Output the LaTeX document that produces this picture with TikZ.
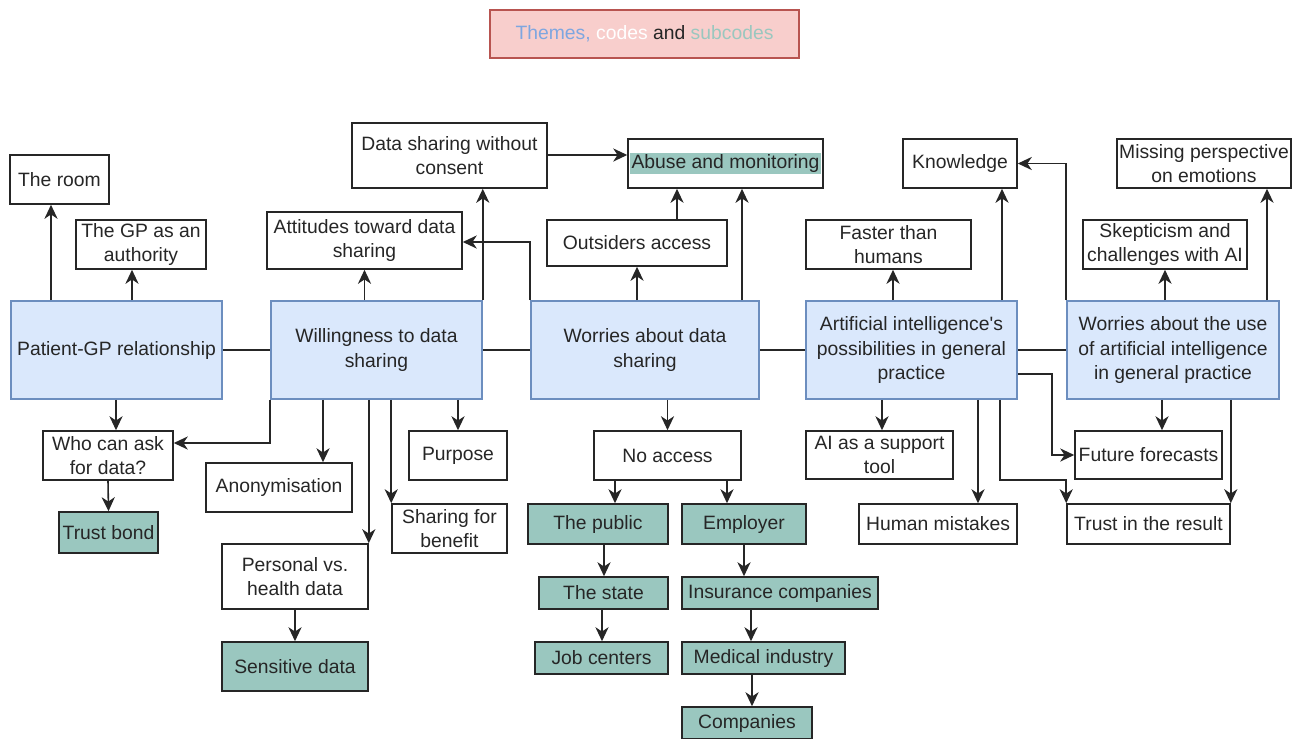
\documentclass[tikz,border=0pt]{standalone}
\usepackage{fontspec}
\setmainfont{Liberation Sans}
\usetikzlibrary{arrows.meta}
\definecolor{themefill}{HTML}{DAE8FC}
\definecolor{themeline}{HTML}{6C8EBF}
\definecolor{subfill}{HTML}{9AC7BF}
\definecolor{titlefill}{HTML}{F8CECC}
\definecolor{titleline}{HTML}{B85450}
\definecolor{themeblue}{HTML}{7EA6E0}

\begin{document}
\begin{tikzpicture}[
  x=0.02cm,y=-0.02cm,
  box/.style={rectangle,inner sep=0pt,align=center,line width=0.9pt,text=black!85,font=\fontsize{11}{13.7}\selectfont},
  theme/.style={box,draw=themeline,fill=themefill,minimum width=4.22cm,minimum height=1.96cm},
  code/.style={box,draw=black!85,fill=white,minimum height=0.98cm},
  subcode/.style={box,draw=black!85,fill=subfill,minimum height=0.64cm},
  link/.style={line width=0.9pt,black!85},
  arr/.style={link,-{Stealth[length=8pt,width=7.5pt,inset=2.5pt]}}
]
\useasboundingbox (0,0) rectangle (1297,738);

\node[box,draw=titleline,fill=titlefill,minimum width=6.18cm,minimum height=0.96cm] (title) at (644.5,34)
  {{\color{themeblue}Themes,} {\color{white}codes} and {\color{subfill}subcodes}};

\node[theme] (pgp) at (116.5,350) {Patient-GP relationship};
\node[theme] (will) at (376.5,350) {Willingness to data\\sharing};
\node[theme,minimum width=4.56cm] (wds) at (645,350) {Worries about data\\sharing};
\node[theme] (aip) at (911.5,350) {Artificial intelligence\textquotesingle s\\possibilities in general\\practice};
\node[theme,minimum width=4.24cm] (wai) at (1173,350) {Worries about the use\\of artificial intelligence\\in general practice};

\node[code,minimum width=1.98cm] (room) at (59.5,179.5) {The room};
\node[code,minimum width=2.6cm] (gpa) at (141,244.5) {The GP as an\\authority};
\node[code,minimum width=3.9cm,minimum height=1.14cm] (att) at (364.5,240.5) {Attitudes toward data\\sharing};
\node[code,minimum width=3.9cm,minimum height=1.3cm] (dsc) at (449.5,155.5) {Data sharing without\\consent};
\node[code,minimum width=3.9cm] (abuse) at (725.5,163.5) {\setlength{\fboxsep}{1pt}\colorbox{subfill}{Abuse and monitoring}};
\node[code,minimum width=3.6cm,minimum height=0.92cm] (out) at (637,243) {Outsiders access};
\node[code,minimum width=2.28cm] (know) at (960,163.5) {Knowledge};
\node[code,minimum width=3.3cm] (fast) at (888.5,244.5) {Faster than\\humans};
\node[code,minimum width=3.48cm] (miss) at (1204,163.5) {Missing perspective\\on emotions};
\node[code,minimum width=3.28cm] (skep) at (1165,244.5) {Skepticism and\\challenges with AI};

\node[code,minimum width=2.6cm] (who) at (108,455.5) {Who can ask\\for data?};
\node[subcode,minimum width=1.98cm,minimum height=0.82cm] (trust) at (108.5,532.5) {Trust bond};
\node[code,minimum width=2.92cm] (anon) at (279,487.5) {Anonymisation};
\node[code,minimum width=2.92cm,minimum height=1.3cm] (pers) at (295,576.5) {Personal vs.\\health data};
\node[subcode,minimum width=2.92cm,minimum height=0.98cm] (sens) at (295,666.5) {Sensitive data};
\node[code,minimum width=2.3cm] (share) at (449.5,528.5) {Sharing for\\benefit};
\node[code,minimum width=1.96cm] (purp) at (458,455.5) {Purpose};

\node[code,minimum width=2.94cm] (noacc) at (667.5,455.5) {No access};
\node[subcode,minimum width=2.8cm,minimum height=0.8cm] (pub) at (598,524) {The public};
\node[subcode,minimum width=2.48cm,minimum height=0.8cm] (emp) at (744,524) {Employer};
\node[subcode,minimum width=2.58cm] (state) at (603.5,593) {The state};
\node[subcode,minimum width=3.92cm] (ins) at (780,593) {Insurance companies};
\node[subcode,minimum width=2.66cm] (job) at (601.5,658) {Job centers};
\node[subcode,minimum width=3.26cm] (med) at (763.5,658) {Medical industry};
\node[subcode,minimum width=2.6cm] (comp) at (747,723) {Companies};

\node[code,minimum width=2.94cm,minimum height=0.96cm] (sup) at (879.5,455) {AI as a support\\tool};
\node[code,minimum width=3.16cm,minimum height=0.8cm] (hum) at (938,524) {Human mistakes};
\node[code,minimum width=2.94cm,minimum height=0.96cm] (fut) at (1148.5,455) {Future forecasts};
\node[code,minimum width=3.26cm,minimum height=0.8cm] (tres) at (1148.5,524) {Trust in the result};

\draw[link] (pgp) -- (will);
\draw[link] (will) -- (wds);
\draw[link] (wds) -- (aip);
\draw[link] (aip) -- (wai);

\draw[arr] (pgp.north -| 51,0) -- (room.south -| 51,0);
\draw[arr] (pgp.north -| 132,0) -- (gpa.south -| 132,0);
\draw[arr] (pgp.south -| 116,0) -- (who.north -| 116,0);
\draw[arr] (who.south) -- (trust.north);

\draw[arr] (will.north -| att.south) -- (att.south);
\draw[arr] (will.north east) -- (dsc.south -| will.north east);
\draw[arr] (will.south west) |- (who.east |- 0,443);
\draw[arr] (will.south -| 323,0) -- (anon.north -| 323,0);
\draw[arr] (will.south -| pers.north east) -- (pers.north east);
\draw[arr] (will.south -| share.north west) -- (share.north west);
\draw[arr] (will.south -| purp.north) -- (purp.north);
\draw[arr] (pers.south) -- (sens.north);

\draw[arr] (wds.north west) |- (att.east |- 0,242);
\draw[arr] (dsc.east |- 0,155) -- (abuse.west |- 0,155);
\draw[arr] (wds.north -| out.south) -- (out.south);
\draw[arr] (out.north -| 677,0) -- (abuse.south -| 677,0);
\draw[arr] (wds.north -| 742,0) -- (abuse.south -| 742,0);
\draw[arr] (wds.south -| noacc.north) -- (noacc.north);
\draw[arr] (noacc.south -| 615,0) -- (pub.north -| 615,0);
\draw[arr] (noacc.south -| 727,0) -- (emp.north -| 727,0);
\draw[arr] (pub.south -| 604,0) -- (state.north -| 604,0);
\draw[arr] (state.south -| 602,0) -- (job.north -| 602,0);
\draw[arr] (emp.south) -- (ins.north -| emp.south);
\draw[arr] (ins.south -| 751,0) -- (med.north -| 751,0);
\draw[arr] (med.south -| 752,0) -- (comp.north -| 752,0);

\draw[arr] (aip.north -| 893,0) -- (fast.south -| 893,0);
\draw[arr] (aip.north -| 1002,0) -- (know.south -| 1002,0);
\draw[arr] (aip.south -| 882,0) -- (sup.north -| 882,0);
\draw[arr] (aip.south -| 978,0) -- (hum.north -| 978,0);
\draw[arr] (aip.south -| 1000,0) -- ++(0,80) -| (tres.north west);
\draw[arr] (aip.east |- 0,374) -- ++(34,0) |- (fut.west);

\draw[arr] (wai.north west) |- (know.east);
\draw[arr] (wai.north -| skep.south) -- (skep.south);
\draw[arr] (wai.north -| 1267,0) -- (miss.south -| 1267,0);
\draw[arr] (wai.south -| 1162,0) -- (fut.north -| 1162,0);
\draw[arr] (wai.south -| tres.north east) -- (tres.north east);

\end{tikzpicture}
\end{document}
